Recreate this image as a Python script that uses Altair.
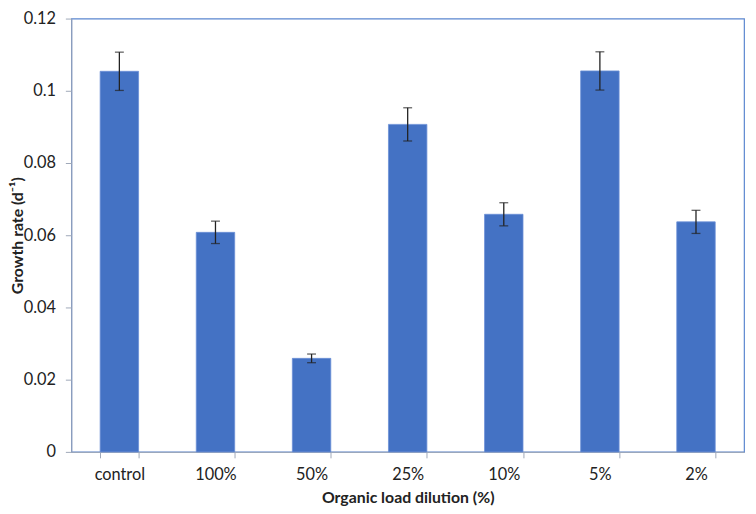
import altair as alt
import pandas as pd

categories = ["control", "100%", "50%", "25%", "10%", "5%", "2%"]
growth_rate = [0.1054, 0.0608, 0.0259, 0.0907, 0.0658, 0.1055, 0.0637]
error = [0.0053, 0.0031, 0.0012, 0.0046, 0.0032, 0.0053, 0.0032]

df = pd.DataFrame({"cat": categories, "rate": growth_rate, "err": error})
df["lo"] = df["rate"] - df["err"]
df["hi"] = df["rate"] + df["err"]

FONT = "Lato"

x_enc = alt.X(
    "cat:N",
    sort=categories,
    scale=alt.Scale(paddingInner=0.6, paddingOuter=0.3),
    axis=alt.Axis(
        title="Organic load dilution (%)",
        labelAngle=0,
        tickBand="extent",
        tickSize=6,
        labelPadding=9,
        titlePadding=7,
        domainColor="#9FA8B8",
        tickColor="#9FA8B8",
    ),
)

y_scale = alt.Scale(domain=[0, 0.12], nice=False)

bars = alt.Chart(df).mark_bar(color="#4472C4", stroke="#6A8FD6", strokeWidth=0.8).encode(
    x=x_enc,
    y=alt.Y(
        "rate:Q",
        scale=y_scale,
        axis=alt.Axis(
            title="Growth rate (d⁻¹)",
            values=[0, 0.02, 0.04, 0.06, 0.08, 0.1, 0.12],
            format="~g",
            grid=False,
            tickSize=6,
            labelPadding=10,
            titleX=-49,
            titleY=219,
            titleAnchor="middle",
            titleBaseline="alphabetic",
            domainColor="#9FA8B8",
            tickColor="#9FA8B8",
        ),
    ),
)

rules = alt.Chart(df).mark_rule(color="#222222", strokeWidth=1.3).encode(
    x=alt.X("cat:N", sort=categories),
    y=alt.Y("lo:Q", scale=y_scale),
    y2="hi:Q",
)

caps_hi = alt.Chart(df).mark_tick(color="#222222", size=9, thickness=1.3).encode(
    x=alt.X("cat:N", sort=categories),
    y=alt.Y("hi:Q", scale=y_scale),
)
caps_lo = alt.Chart(df).mark_tick(color="#222222", size=9, thickness=1.3).encode(
    x=alt.X("cat:N", sort=categories),
    y=alt.Y("lo:Q", scale=y_scale),
)

chart = (
    alt.layer(bars, rules, caps_hi, caps_lo)
    .properties(
        width=680,
        height=438,
        autosize=alt.AutoSizeParams(type="none"),
        padding={"left": 64, "top": 8, "right": 4, "bottom": 52},
        background="white",
    )
    .configure_view(stroke="#5B86CF", strokeWidth=1.2)
    .configure_axis(
        labelFont=FONT,
        titleFont=FONT,
        labelFontSize=16.5,
        titleFontSize=16,
        titleFontWeight="bold",
        labelColor="#222222",
        titleColor="#222222",
    )
)

chart.save("out.html", embed_options={"renderer": "svg", "actions": False})
